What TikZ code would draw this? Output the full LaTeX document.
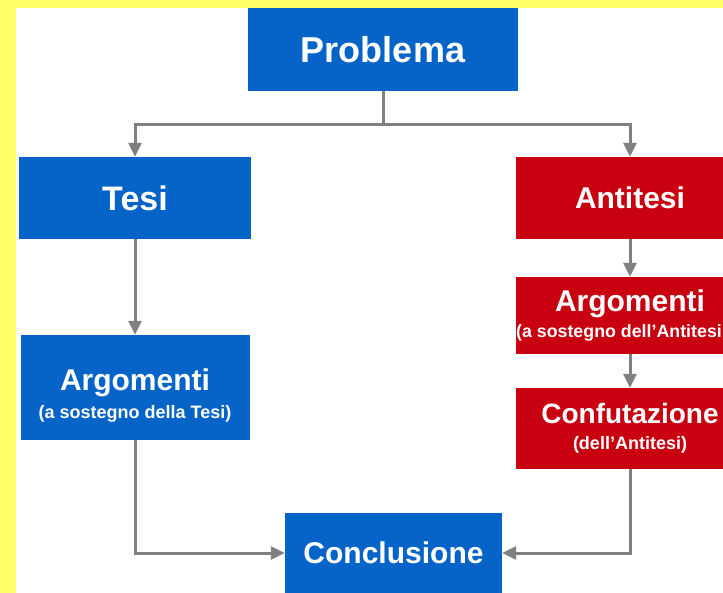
\documentclass[tikz,border=0pt]{standalone}
\usepackage{fontspec}
\setmainfont{Liberation Sans}
\usetikzlibrary{arrows.meta}
\definecolor{giallo}{HTML}{FFFF66}
\definecolor{blu}{HTML}{0664C8}
\definecolor{rosso}{HTML}{C8000F}
\definecolor{grigio}{HTML}{808080}
\newcommand{\sotto}[1]{{\fontsize{18}{20}\selectfont #1}}

\begin{document}
\begin{tikzpicture}[x=1pt, y=-1pt, >={Triangle[length=14pt,width=13pt]},
  box/.style={inner sep=0pt, align=center, text=white, font=\bfseries\fontsize{30}{32}\selectfont},
  bluebox/.style={box, fill=blu},
  redbox/.style={box, fill=rosso},
  conn/.style={grigio, line width=3pt, ->}]
  \useasboundingbox (0,0) rectangle (723,593);
  \fill[giallo] (0,0) rectangle (723,593);
  \fill[white] (16,8) rectangle (723,593);
  % blocchi
  \node[bluebox, minimum width=270, minimum height=83, font=\bfseries\fontsize{36}{38}\selectfont] (prob) at (383,49.5) {Problema};
  \node[bluebox, minimum width=232, minimum height=82, font=\bfseries\fontsize{34}{36}\selectfont] (tesi) at (135,198) {Tesi};
  \node[bluebox, minimum width=229, minimum height=105] (argT) at (135,387.5) {\rule{0pt}{38pt}Argomenti\\[-4pt]\sotto{(a sostegno della Tesi)}};
  \node[redbox, minimum width=228, minimum height=82] (anti) at (630,198) {Antitesi};
  \node[redbox, minimum width=228, minimum height=77] (argA) at (630,315.5) {Argomenti\\[-6pt]{\fontsize{17.8}{20}\selectfont (a sostegno dell'Antitesi}\hspace*{22pt}};
  \node[redbox, minimum width=228, minimum height=81, font=\bfseries\fontsize{28}{30}\selectfont] (conf) at (630,428.5) {Confutazione\\[-4pt]\sotto{(dell'Antitesi)}};
  \node[bluebox, minimum width=217, minimum height=80] (concl) at (393.5,553) {Conclusione};
  % frecce
  \draw[conn] (prob.south) -- ++(0,33) -| (tesi.north);
  \draw[conn] (prob.south) -- ++(0,33) -| (anti.north);
  \draw[conn] (tesi) -- (argT);
  \draw[conn] (anti) -- (argA);
  \draw[conn] (argA) -- (conf);
  \draw[conn] (argT.south) |- (concl.west);
  \draw[conn] (conf.south) |- (concl.east);
\end{tikzpicture}
\end{document}
